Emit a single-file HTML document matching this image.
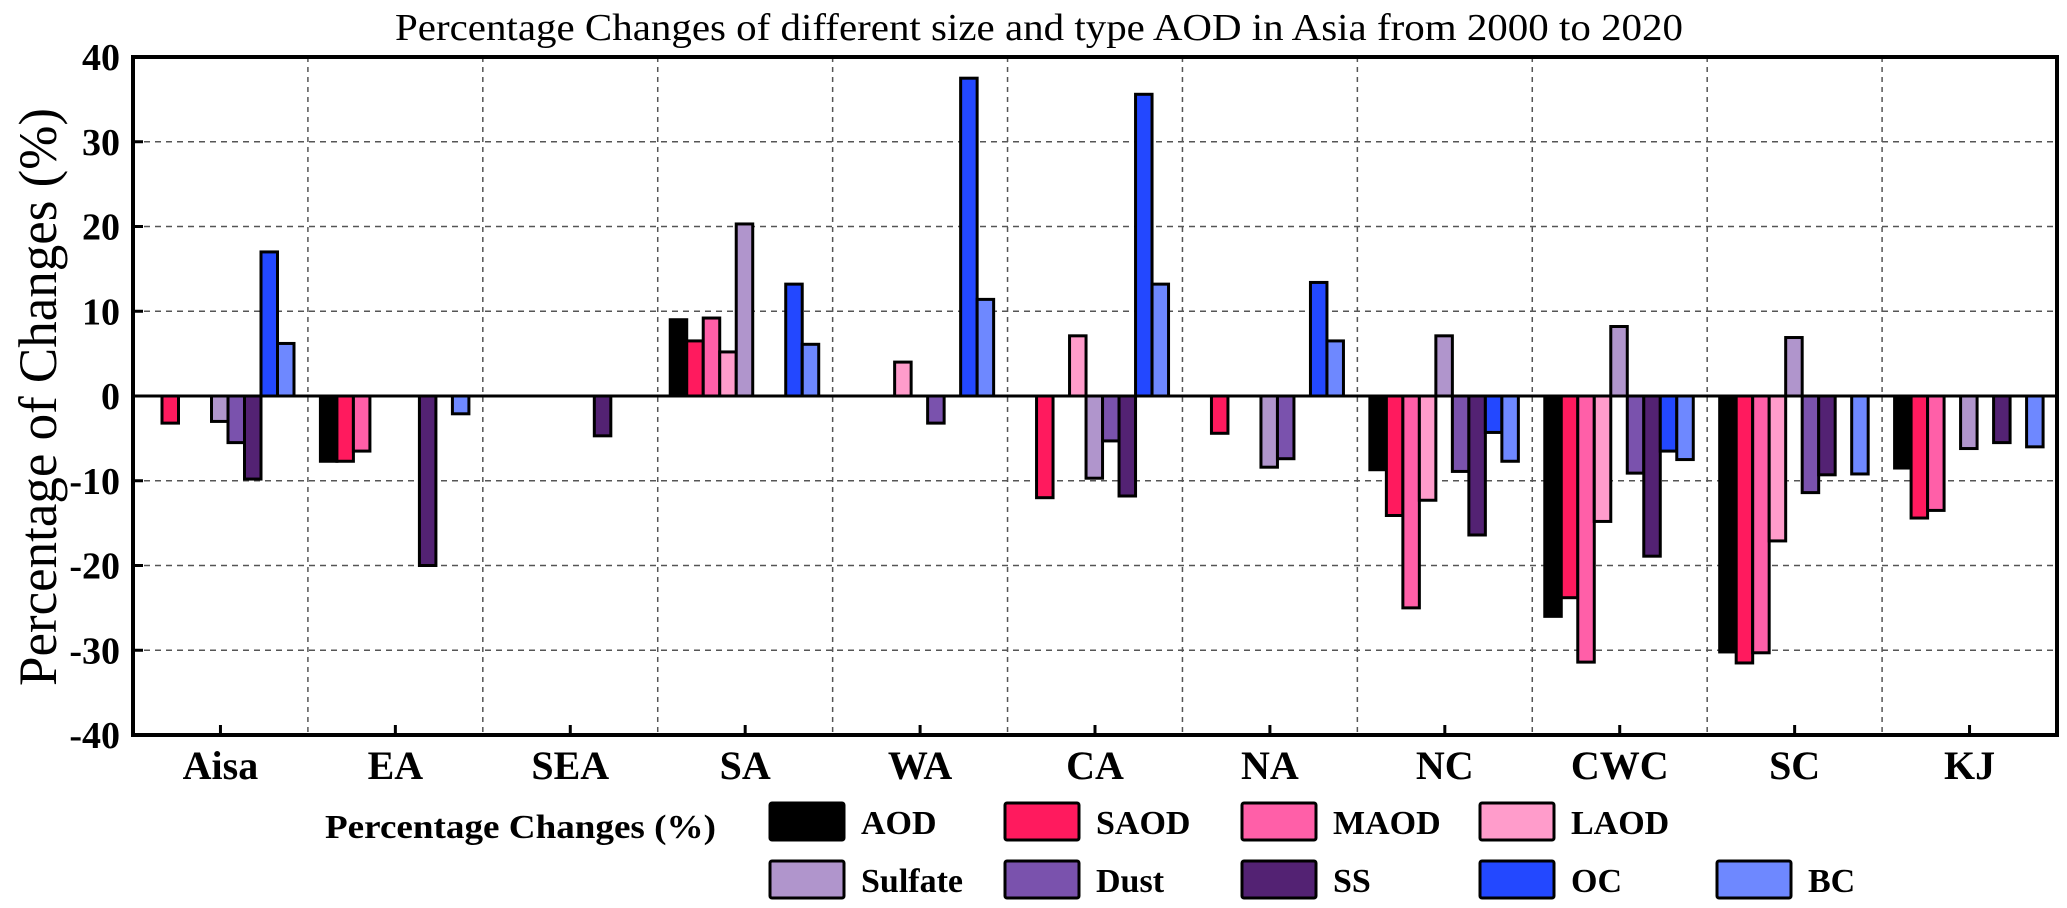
<!DOCTYPE html>
<html><head><meta charset="utf-8"><style>
html,body{margin:0;padding:0;background:#fff;}
svg{display:block;}
text{font-family:"Liberation Serif",serif;}
</style></head><body>
<svg id="chart" width="2067" height="908" viewBox="0 0 2067 908" xmlns="http://www.w3.org/2000/svg">
<text x="1039" y="40" text-anchor="middle" font-size="38" textLength="1288" lengthAdjust="spacingAndGlyphs">Percentage Changes of different size and type AOD in Asia from 2000 to 2020</text>
<text transform="translate(56,397) rotate(-90)" text-anchor="middle" font-size="54" textLength="578" lengthAdjust="spacingAndGlyphs">Percentage of Changes (%)</text>
<g id="grid"></g>
<g id="bars"></g>
<g id="axes"></g>
<g id="legend"></g>
</svg>
<script>
const categories = ["Aisa","EA","SEA","SA","WA","CA","NA","NC","CWC","SC","KJ"];
const seriesNames = ["AOD","SAOD","MAOD","LAOD","Sulfate","Dust","SS","OC","BC"];
const seriesColors = ["#000000","#ff1a5e","#ff5fa8","#ff9ccb","#b095cc","#7a52ad","#532273","#2348ff","#6e88ff"];
const AOD     = [0,-7.7,0,9.0,0,0,0,-8.7,-26.0,-30.2,-8.5];
const SAOD    = [-3.2,-7.7,0,6.5,0,-12.0,-4.4,-14.1,-23.8,-31.5,-14.4];
const MAOD    = [0,-6.5,0,9.2,0,0,0,-25.0,-31.4,-30.3,-13.5];
const LAOD    = [0,0,0,5.2,4.0,7.1,0,-12.3,-14.8,-17.1,0];
const Sulfate = [-3.0,0,0,20.3,0,-9.7,-8.4,7.1,8.2,6.9,-6.2];
const Dust    = [-5.5,0,0,0,-3.2,-5.3,-7.4,-8.9,-9.1,-11.4,0];
const SS      = [-9.8,-20.0,-4.7,0,0,-11.8,0,-16.4,-18.9,-9.3,-5.5];
const OC      = [17.0,0,0,13.2,37.5,35.6,13.4,-4.3,-6.5,0,0];
const BC      = [6.2,-2.1,0,6.1,11.4,13.2,6.5,-7.7,-7.5,-9.2,-6.0];
const yTicks = [40,30,20,10,0,-10,-20,-30,-40];
const series = [AOD,SAOD,MAOD,LAOD,Sulfate,Dust,SS,OC,BC];

const NS="http://www.w3.org/2000/svg";
const L=133,R=2057,T=57,B=735,yMin=-40,yMax=40;
const gw=(R-L)/categories.length, bw=16.5, off=12.5;
function y(v){return T+(yMax-v)/(yMax-yMin)*(B-T);}
function gx(i){return L+i*gw;}
function mk(tag,attrs,parent){const e=document.createElementNS(NS,tag);for(const k in attrs)e.setAttribute(k,attrs[k]);parent.appendChild(e);return e;}
const grid=document.getElementById('grid'),bars=document.getElementById('bars'),axes=document.getElementById('axes'),legend=document.getElementById('legend');

yTicks.forEach(t=>{
  if(t!==yMax&&t!==yMin&&t!==0){
    const g=mk('line',{x1:L,x2:R,y1:y(t),y2:y(t),stroke:'#555','stroke-width':1.5,'stroke-dasharray':'6 5'},grid);
    
    
  }
  const tk=mk('line',{x1:L,x2:L+10,y1:y(t),y2:y(t),stroke:'#000','stroke-width':3},axes);
  
  
  const lb=mk('text',{x:120,y:y(t)+13,'text-anchor':'end','font-size':38,'font-weight':'bold'},axes);
  lb.textContent=t;
  
  
});
for(let i=1;i<categories.length;i++){
  const g=mk('line',{x1:gx(i),x2:gx(i),y1:T,y2:B,stroke:'#555','stroke-width':1.5,'stroke-dasharray':'5 5'},grid);
  
  
}
categories.forEach((c,i)=>{
  series.forEach((s,j)=>{
    const v=s[i]; if(v===0) return;
    const x=gx(i)+off+j*bw;
    const r=mk('rect',{x:x,y:Math.min(y(v),y(0)),width:bw,height:Math.abs(y(v)-y(0)),fill:seriesColors[j],stroke:'#000','stroke-width':3},bars);
    
    
  });
  const cx=gx(i)+gw/2;
  const tk=mk('line',{x1:cx,x2:cx,y1:B,y2:B-10,stroke:'#000','stroke-width':3},axes);
  
  
  const lb=mk('text',{x:cx,y:779,'text-anchor':'middle','font-size':40,'font-weight':'bold'},axes);
  lb.textContent=c;
  
  
});
const zl=mk('line',{x1:L,x2:R,y1:y(0),y2:y(0),stroke:'#000','stroke-width':3},axes);


const fr=mk('rect',{x:L,y:T,width:R-L,height:B-T,fill:'none',stroke:'#000','stroke-width':4},axes);



const lt=mk('text',{x:325,y:838,'font-size':34,'font-weight':'bold',textLength:391,lengthAdjust:'spacingAndGlyphs'},legend);
lt.textContent='Percentage Changes (%)';


const colX=[770,1005,1242,1480,1717];
seriesNames.forEach((n,j)=>{
  const row=j<4?0:1, col=j<4?j:j-4;
  const sx=colX[col], sy=row===0?803:861;
  const sw=mk('rect',{x:sx,y:sy,width:74,height:37,rx:2,fill:seriesColors[j],stroke:'#000','stroke-width':3},legend);
  
  
  const t=mk('text',{x:sx+91,y:sy+31,'font-size':34,'font-weight':'bold'},legend);
  t.textContent=n;
  
  
});
</script>
</body></html>
